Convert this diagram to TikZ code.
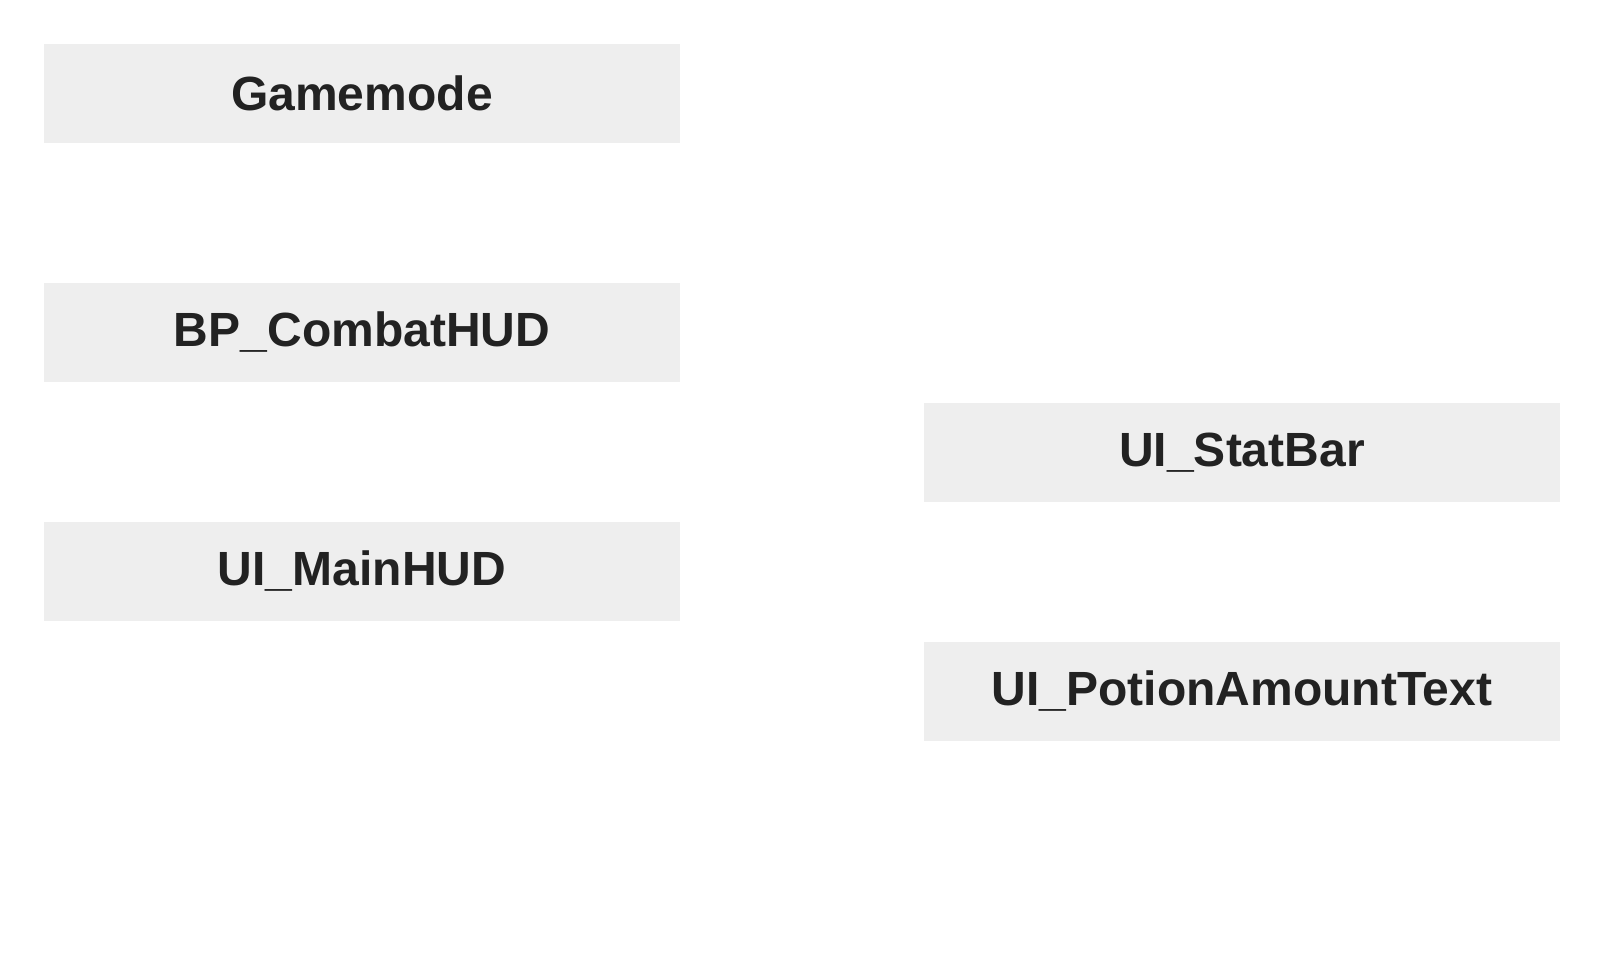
\documentclass[tikz,border=0pt]{standalone}
\usepackage{fontspec}
\setmainfont{Liberation Sans}
\usepackage{tikz}
\usetikzlibrary{positioning}
\definecolor{boxbg}{HTML}{EEEEEE}
\definecolor{boxtext}{HTML}{222222}

\begin{document}
\begin{tikzpicture}[node distance=140pt, every node/.style={fill=boxbg, text=boxtext, inner sep=0pt, outer sep=0pt, minimum width=636pt, minimum height=99pt, font=\fontsize{48}{58}\selectfont\bfseries}]
    \useasboundingbox (0,0) rectangle (1604pt,-972pt);
    \node at (362pt,-93.5pt) (gamemode) {Gamemode};
    \node[below=of gamemode] (combathud) {BP\_CombatHUD};
    \node[below=of combathud] (mainhud) {UI\_MainHUD};
    \node[right=244pt of combathud, yshift=-120pt] (statbar) {UI\_StatBar};
    \node[below=of statbar] (potiontext) {UI\_PotionAmountText};
  \end{tikzpicture}
\end{document}
